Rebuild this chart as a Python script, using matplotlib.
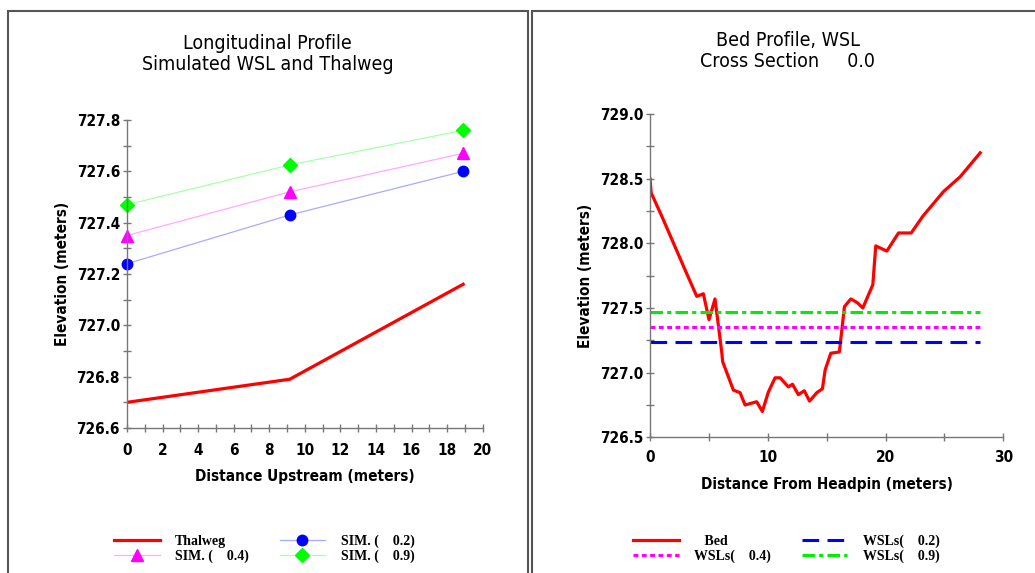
import matplotlib
matplotlib.use('Agg')
import matplotlib.pyplot as plt
from matplotlib.patches import Rectangle
from matplotlib.ticker import MultipleLocator
from matplotlib.font_manager import FontProperties

plt.rcParams['lines.scale_dashes'] = False

# longitudinal profile (stations upstream, metres)
station = [0.0, 9.15, 18.9]
thalweg = [726.70, 726.79, 727.16]
sim_02 = [727.24, 727.43, 727.60]
sim_04 = [727.35, 727.52, 727.67]
sim_09 = [727.47, 727.625, 727.76]

# bed profile at cross section 0.0
dist = [0.0, 0.1, 1.0, 2.0, 3.0, 3.97, 4.53, 5.01, 5.52, 6.09, 6.17, 7.08, 7.65,
        8.07, 9.06, 9.54, 10.05, 10.62, 11.05, 11.75, 12.1, 12.6, 13.1, 13.55,
        14.16, 14.64, 14.87, 15.35, 16.08, 16.51, 17.05, 17.62, 18.07, 18.92,
        19.17, 20.11, 21.1, 22.18, 23.17, 24.92, 26.34, 28.04]
bed = [728.50, 728.39, 728.21, 728.00, 727.79, 727.59, 727.61, 727.41, 727.57,
       727.16, 727.085, 726.865, 726.845, 726.75, 726.775, 726.70, 726.85,
       726.96, 726.96, 726.89, 726.91, 726.83, 726.86, 726.78, 726.845, 726.875,
       727.02, 727.15, 727.16, 727.51, 727.57, 727.54, 727.50, 727.68, 727.98,
       727.94, 728.08, 728.08, 728.21, 728.40, 728.515, 728.70]
wsl_x = [0.0, 28.04]
wsl_02 = 727.24
wsl_04 = 727.35
wsl_09 = 727.47

axis_grey = '#777777'
tick_font = dict(family='DejaVu Sans', weight='bold', stretch='condensed', size=11)
label_font = dict(family='DejaVu Sans', weight='bold', stretch='condensed', size=11)
title_font = dict(family='DejaVu Sans', stretch='condensed', size=14)
legend_font = dict(family='Liberation Serif', weight='bold', size=10)

fig = plt.figure(figsize=(10.35, 5.73), dpi=100)
W, H = 1035.0, 573.0

# panel frames
fig.patches.append(Rectangle((8 / W, -0.1), 519.7 / W, 1.1 - 11 / H, transform=fig.transFigure,
                             fill=False, edgecolor='#555555', lw=1.5))
fig.patches.append(Rectangle((532 / W, -0.1), 0.6, 1.1 - 11 / H, transform=fig.transFigure,
                             fill=False, edgecolor='#555555', lw=1.5))


def style_axes(ax, xpad):
    for side in ['top', 'right']:
        ax.spines[side].set_visible(False)
    for side in ['left', 'bottom']:
        ax.spines[side].set_color(axis_grey)
        ax.spines[side].set_linewidth(1.0)
    ax.tick_params(which='both', direction='inout', length=6, width=1, color=axis_grey, pad=2)
    ax.tick_params(axis='x', pad=xpad)
    for lab in ax.get_xticklabels() + ax.get_yticklabels():
        lab.set_fontproperties(FontProperties(**tick_font))


# left: longitudinal profile
ax1 = fig.add_axes([127 / W, 1 - 428 / H, 355.7 / W, 308 / H])
ax1.plot(station, thalweg, color='red', lw=2.3, label='Thalweg')
ax1.plot(station, sim_02, color='#aaaaff', lw=0.9, marker='o', ms=7.5,
         mfc='blue', mec='blue', clip_on=False, label='SIM. (    0.2)')
ax1.plot(station, sim_04, color='#ffaaff', lw=0.9, marker='^', ms=8.5,
         mfc='magenta', mec='magenta', clip_on=False, label='SIM. (    0.4)')
ax1.plot(station, sim_09, color='#aaffaa', lw=0.9, marker='D', ms=7,
         mfc='#00ff00', mec='#00ff00', clip_on=False, label='SIM. (    0.9)')
ax1.set_xlim(0, 20)
ax1.xaxis.set_major_locator(MultipleLocator(2))
ax1.xaxis.set_minor_locator(MultipleLocator(1))
ax1.set_yticks([726.6, 726.8, 727.0, 727.2, 727.4, 727.6, 727.8])
ax1.set_yticklabels(['%.1f' % v for v in ax1.get_yticks()])
ax1.yaxis.set_minor_locator(MultipleLocator(0.1))
ax1.set_ylim(726.6, 727.8)
style_axes(ax1, xpad=8)
ax1.set_xlabel('Distance Upstream (meters)', labelpad=8, **label_font)
ax1.set_ylabel('Elevation (meters)', labelpad=5, **label_font)

h = ax1.get_legend_handles_labels()[0]
fig.legend([h[0], h[2], h[1], h[3]],
           ['Thalweg', 'SIM. (    0.4)', 'SIM. (    0.2)', 'SIM. (    0.9)'],
           ncol=2, loc='upper left', bbox_to_anchor=(114 / W, 1 - 535 / H),
           frameon=False, prop=legend_font, handlelength=3.3, handletextpad=1.1,
           columnspacing=2.2, labelspacing=0.1, borderpad=0, borderaxespad=0)

fig.text(267.5 / W, 1 - 54 / H, 'Longitudinal Profile\nSimulated WSL and Thalweg',
         ha='center', va='center', linespacing=1.15, **title_font)

# right: bed profile with water surface levels
ax2 = fig.add_axes([650 / W, 1 - 437.3 / H, 353.3 / W, 323.3 / H])
ax2.plot(dist, bed, color='red', lw=2.3, label='   Bed')
ax2.plot(wsl_x, [wsl_02, wsl_02], color='blue', lw=2.2, dashes=(12, 6), label='WSLs(    0.2)')
ax2.plot(wsl_x, [wsl_04, wsl_04], color='magenta', lw=2.2, dashes=(3.5, 2.5), label='WSLs(    0.4)')
ax2.plot(wsl_x, [wsl_09, wsl_09], color='#00ee00', lw=2.2, dashes=(9, 3, 3, 3), label='WSLs(    0.9)')
ax2.set_xlim(0, 30)
ax2.xaxis.set_major_locator(MultipleLocator(10))
ax2.xaxis.set_minor_locator(MultipleLocator(5))
ax2.set_yticks([726.5, 727.0, 727.5, 728.0, 728.5, 729.0])
ax2.set_yticklabels(['%.1f' % v for v in ax2.get_yticks()])
ax2.yaxis.set_minor_locator(MultipleLocator(0.25))
ax2.set_ylim(726.5, 729.0)
style_axes(ax2, xpad=6)
ax2.set_xlabel('Distance From Headpin (meters)', labelpad=9, **label_font)
ax2.set_ylabel('Elevation (meters)', labelpad=5, **label_font)

h2, l2 = ax2.get_legend_handles_labels()
fig.legend([h2[0], h2[2], h2[1], h2[3]], [l2[0], l2[2], l2[1], l2[3]],
           ncol=2, loc='upper left', bbox_to_anchor=(633 / W, 1 - 535 / H),
           frameon=False, prop=legend_font, handlelength=3.3, handletextpad=1.1,
           columnspacing=2.2, labelspacing=0.1, borderpad=0, borderaxespad=0)

fig.text(788 / W, 1 - 51 / H, 'Bed Profile, WSL\nCross Section     0.0',
         ha='center', va='center', linespacing=1.15, **title_font)

fig.savefig('out.png', dpi=100)
